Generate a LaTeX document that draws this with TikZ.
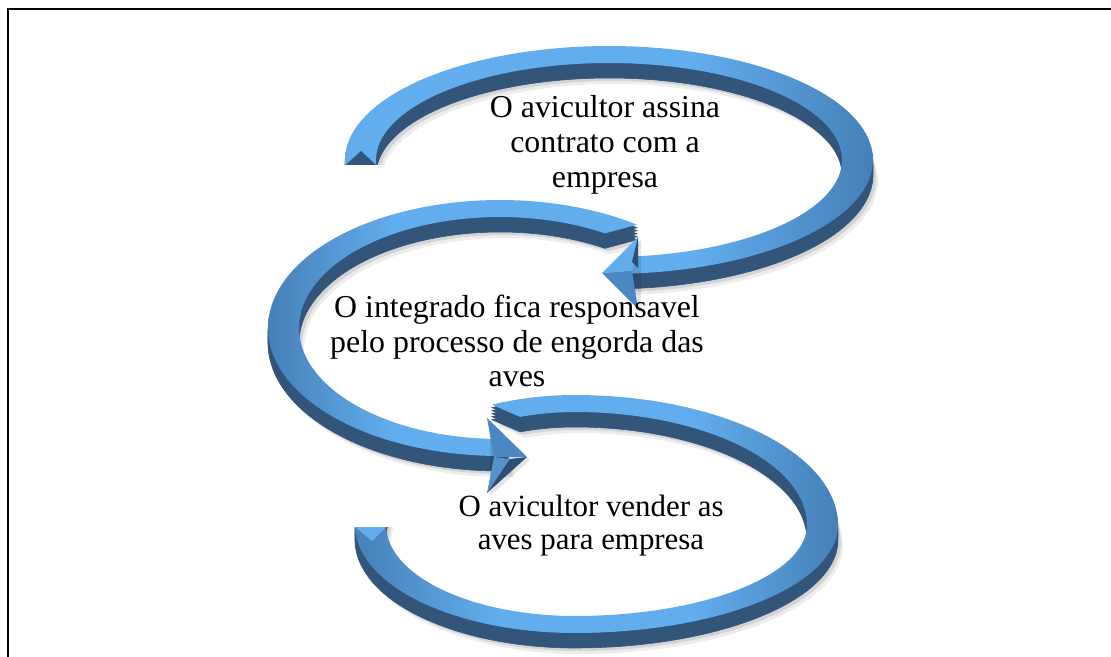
\documentclass[tikz,border=0pt]{standalone}
\usepackage{fontspec}
\setmainfont{Liberation Serif}
\definecolor{faceL}{RGB}{98,173,238}
\definecolor{faceM}{RGB}{70,128,184}
\definecolor{wallD}{RGB}{52,85,122}
\definecolor{headM}{RGB}{74,135,196}
\definecolor{headD}{RGB}{45,78,114}
\pgfdeclarehorizontalshading{shR}{100bp}{color(0bp)=(faceL); color(25bp)=(faceL); color(58bp)=(faceL); color(75bp)=(faceM); color(100bp)=(faceM)}
\pgfdeclarehorizontalshading{shL}{100bp}{color(0bp)=(faceM); color(25bp)=(faceM); color(42bp)=(faceL); color(75bp)=(faceL); color(100bp)=(faceL)}
\pgfdeclarehorizontalshading{shB}{100bp}{color(0bp)=(faceM); color(25bp)=(faceM); color(40bp)=(faceL); color(60bp)=(faceL); color(75bp)=(faceM); color(100bp)=(faceM)}
% ring segment: outer from #1 to #2, inner from #3 to #4 (angles in degrees)
\newcommand\seg[4]{plot[domain=#1:#2,samples=120,variable=\t] ({\cx+ifthenelse(cos(\t)>0,\rr,\rl)*cos(\t)},{\cy-ifthenelse(sin(\t)>0,\rt,\rb)*sin(\t)}) -- plot[domain=#4:#3,samples=120,variable=\t] ({\cx+ifthenelse(cos(\t)>0,\rr-\w,\rl-\w)*cos(\t)},{\cy-ifthenelse(sin(\t)>0,\rt-\h,\rb-\h)*sin(\t)}) -- cycle}
\newcommand\band[5]{%
  \fill[black,opacity=.07,shift={(5,21)}] \seg{#2}{#3}{#4}{#5};
  \fill[black,opacity=.10,shift={(3,18)}] \seg{#2}{#3}{#4}{#5};
  \foreach \s in {15,12,9,6,3}{\filldraw[wallD,line width=.6bp,shift={(0,\s)}] \seg{#2}{#3}{#4}{#5};}
  \shade[shading=#1] \seg{#2}{#3}{#4}{#5};
}
\tikzset{lbl/.style={align=center,inner sep=0pt,font=\fontsize{32}{35}\selectfont}}
\begin{document}
\begin{tikzpicture}[x=1bp,y=-1bp]
\useasboundingbox (0,0) rectangle (1111,657);
\fill[white] (0,0) rectangle (1111,657);
\def\w{31}\def\h{17}
% ---------- arrow 3 (bottom) ----------
\begin{scope}
\clip (0,527) -- (480,527) -- (480,0) -- (1111,0) -- (1111,657) -- (0,657) -- cycle;
\def\cx{575}\def\cy{525}\def\rl{220}\def\rr{263}\def\rt{130}\def\rb{108}
\band{shB}{112.2}{-195}{106.9}{-195}
\end{scope}
\fill[faceL] (355,527) -- (386,527) -- (372,541) -- cycle;
% ---------- arrow 2 (middle) ----------
\begin{scope}
\def\cx{500}\def\cy{328}\def\rl{232}\def\rr{232}\def\rt{128}\def\rb{128}
\band{shL}{53.8}{272}{58.5}{272}
\end{scope}
\fill[black,opacity=.1] (490,421) -- (530,460) -- (490,496) -- cycle;
\fill[headM] (527,457) -- (487,418) -- (494,457) -- cycle;
\fill[faceL!85!black] (494,457) -- (510,459) -- (487,493) -- cycle;
\fill[headD] (510,459) -- (527,457) -- (487,493) -- cycle;
% ---------- arrow 1 (top) ----------
\begin{scope}
\clip (0,0) -- (1111,0) -- (1111,657) -- (480,657) -- (480,165) -- (0,165) -- cycle;
\def\cx{609}\def\cy{160}\def\rl{264}\def\rr{264}\def\rt{114}\def\rb{114}
\band{shR}{195}{-86}{195}{-86}
\end{scope}
\fill[wallD] (345.5,165) -- (376,165) -- (361,151) -- cycle;
\fill[black,opacity=.1] (605,276) -- (641,240) -- (641,312) -- cycle;
\fill[faceL] (602,273) -- (638,237) -- (632,271) -- cycle;
\fill[headM] (602,273) -- (632,271) -- (638,309) -- cycle;
\fill[headD] (638,237) -- (638,268) -- (632,262) -- cycle;
% ---------- texts ----------
\node[lbl] (t1) at (605,145) {O avicultor assina\\contrato com a\\empresa};
\node[lbl] (t2) at (517,341) {O integrado fica responsavel\\pelo processo de engorda das\\aves};
\node[lbl,font=\fontsize{31}{33}\selectfont] (t3) at (591,526) {O avicultor vender as\\aves para empresa};
% ---------- frame ----------
\draw[line width=2.2bp] (8,9) rectangle (1125,675);
\end{tikzpicture}
\end{document}
